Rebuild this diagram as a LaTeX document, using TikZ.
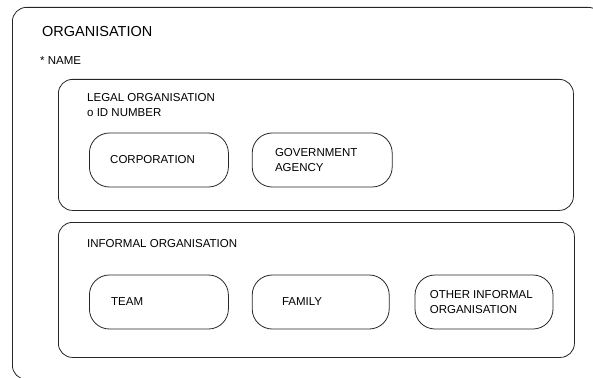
\documentclass[tikz,border=0pt]{standalone}
\usepackage{fontspec}
\setmainfont{Liberation Sans}
\usetikzlibrary{positioning}
\tikzset{entity box/.style={draw=black!85, rectangle, line width=0.8pt, rounded corners=14pt}}
\tikzset{subtype box/.style={draw=black!85, rectangle, line width=0.8pt, rounded corners=20pt, minimum width=139pt, minimum height=54pt, inner sep=0pt}}
\tikzset{entity title/.style={anchor=base west, inner sep=0pt, align=left, font=\fontsize{11.5}{14.5}\selectfont}}

\begin{document}
\begin{tikzpicture}[x=1pt, y=-1pt, node distance=23pt]
\useasboundingbox (0,0) rectangle (593,377);
\clip (0,0) rectangle (593,377);
% outer entity
\node[entity box, anchor=north west, minimum width=590pt, minimum height=372pt] (org) at (12,7) {};
\node[entity title, font=\fontsize{14.5}{17}\selectfont] (orgname) at (42,37) {ORGANISATION};
\node[entity title] (orgattr) at (40,65) {* NAME};
% legal organisation
\node[entity box, anchor=north west, minimum width=515pt, minimum height=131pt] (legal) at (58,79) {};
\node[entity title] (legalname) at (87,116.5) {LEGAL ORGANISATION\\o ID NUMBER};
\node[subtype box, anchor=west] (corp) at (89,160) {};
\node[subtype box, right=of corp, minimum width=140pt] (gov) {};
\node[entity title, anchor=west] at ([xshift=21pt]corp.west) {CORPORATION};
\node[entity title, anchor=west] at ([xshift=23pt]gov.west) {GOVERNMENT\\AGENCY};
% informal organisation
\node[entity box, anchor=north west, minimum width=516pt, minimum height=135pt] (informal) at (58,222) {};
\node[entity title] (informalname) at (87,247) {INFORMAL ORGANISATION};
\node[subtype box, anchor=west] (team) at (89,302) {};
\node[subtype box, right=of team, minimum width=137pt] (family) {};
\node[subtype box, right=25pt of family, minimum width=138pt] (other) {};
\node[entity title, anchor=west] at ([xshift=22pt]team.west) {TEAM};
\node[entity title, anchor=west] at ([xshift=30pt]family.west) {FAMILY};
\node[entity title, anchor=west] at ([xshift=15pt]other.west) {OTHER INFORMAL\\ORGANISATION};
\end{tikzpicture}
\end{document}
